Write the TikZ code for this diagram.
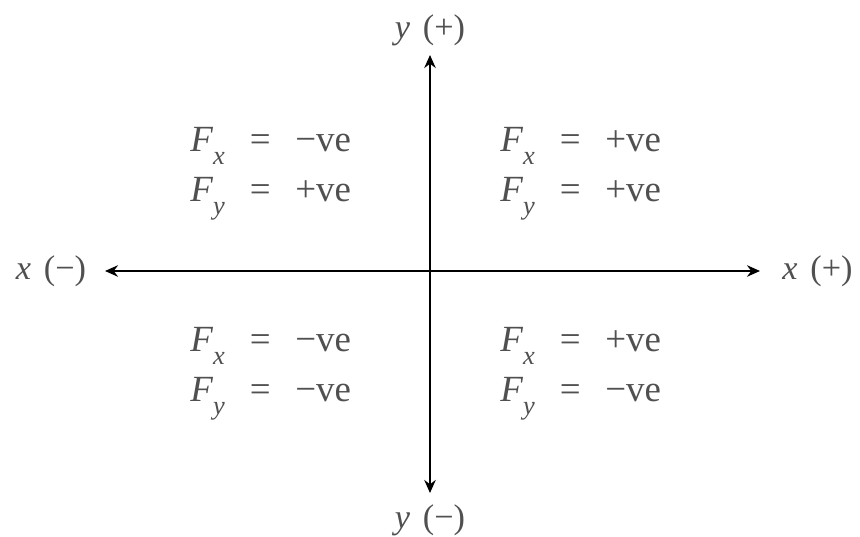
\documentclass[tikz,border=0pt]{standalone}
\usepackage{fontspec}
\setmainfont{Liberation Serif}
\usepackage{tikz}
\usetikzlibrary{arrows.meta, positioning}
\definecolor{qGrey}{HTML}{505050}
\tikzset{
  axisline/.style  = {{Stealth[length=2.6mm, width=2.3mm]}-{Stealth[length=2.6mm, width=2.3mm]},
                      line width=1.1pt, black},
  axlbl/.style     = {font=\fontsize{19.5}{22}\selectfont, qGrey, inner sep=0pt},
  qlbl/.style      = {font=\fontsize{21}{24}\selectfont, qGrey, inner sep=0pt, anchor=base west},
}
% one row of a quadrant: F_sub = value
\newcommand{\frow}[2]{%
  \makebox[1.0cm][l]{\textit{F}\raisebox{-0.33em}{\fontsize{15}{16}\selectfont\textit{#1}}}%
  \makebox[0.8cm][c]{=}\hspace{0.3cm}#2}

\begin{document}
\begin{tikzpicture}
  \useasboundingbox (-8.6,-5.32) rectangle (8.6,5.42);

  % axis ends
  \coordinate (xneg) at (-6.5,0);
  \coordinate (xpos) at (6.6,0);
  \coordinate (ypos) at (0,4.32);
  \coordinate (yneg) at (0,-4.44);

  \draw[axisline] (xneg) -- (xpos);
  \draw[axisline] (yneg) -- (ypos);

  \node[axlbl] (lxneg) at (-7.58,0) {\textit{x}\hspace{0.12em} (−)};
  \node[axlbl] (lxpos) at (7.75,0)  {\textit{x}\hspace{0.12em} (+)};
  \node[axlbl] (lypos) at (0,4.82)  {\textit{y}\hspace{0.12em} (+)};
  \node[axlbl] (lyneg) at (0,-4.98) {\textit{y}\hspace{0.12em} (−)};

  % the four quadrants
  \node[qlbl] (q2x) at (-4.8,2.38)  {\frow{x}{−ve}};
  \node[qlbl] (q2y) at (-4.8,1.38)  {\frow{y}{+ve}};
  \node[qlbl] (q1x) at (1.4,2.38)   {\frow{x}{+ve}};
  \node[qlbl] (q1y) at (1.4,1.38)   {\frow{y}{+ve}};
  \node[qlbl] (q3x) at (-4.8,-1.62) {\frow{x}{−ve}};
  \node[qlbl] (q3y) at (-4.8,-2.62) {\frow{y}{−ve}};
  \node[qlbl] (q4x) at (1.4,-1.62)  {\frow{x}{+ve}};
  \node[qlbl] (q4y) at (1.4,-2.62)  {\frow{y}{−ve}};
\end{tikzpicture}
\end{document}
